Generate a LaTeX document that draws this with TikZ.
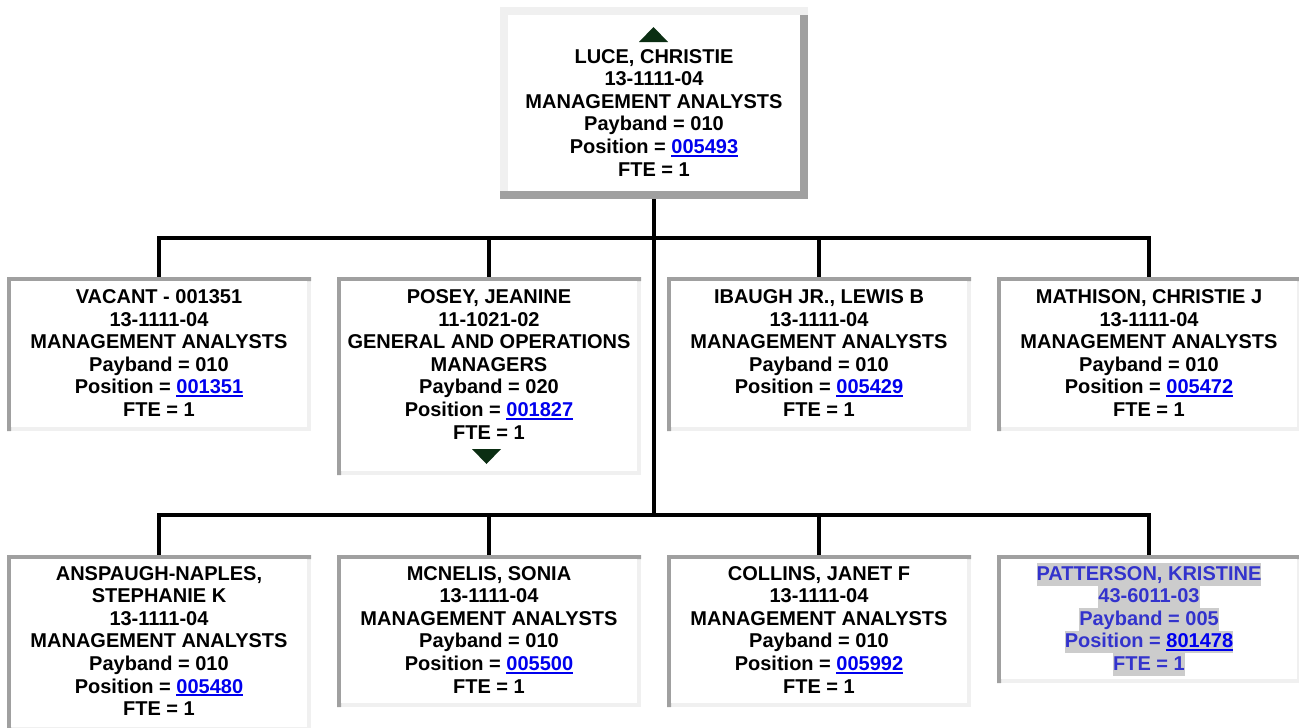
\documentclass[tikz,border=0pt]{standalone}
\usepackage{fontspec}
\setmainfont{Liberation Sans}
\definecolor{bdark}{HTML}{A0A0A0}
\definecolor{blight}{HTML}{F0F0F0}
\definecolor{lnkc}{HTML}{0000EE}
\definecolor{pat}{HTML}{3333CC}
\definecolor{hl}{HTML}{CCCCCC}
\definecolor{arr}{HTML}{0B2E13}
\newcommand\sv{\vrule height 17pt depth 5.6pt width 0pt}
\newcommand\lnk[1]{{\color{lnkc}\setbox0\hbox{#1}\rlap{\vrule width\wd0 height -1.4pt depth 3.4pt}\box0}}
\newcommand\hll[1]{{\setlength\fboxsep{0pt}\colorbox{hl}{\sv #1}}}
% inset bevel: dark top/left, light bottom/right, 4pt
\newcommand\insetbox[1]{%
  \fill[blight] (#1.north west) rectangle (#1.south east);
  \fill[bdark] (#1.south west) -- (#1.north west) -- (#1.north east)
     -- ([yshift=-4pt]#1.north east) -- ([xshift=4pt,yshift=-4pt]#1.north west)
     -- ([xshift=4pt]#1.south west) -- cycle;
  \fill[white] ([xshift=4pt,yshift=-4pt]#1.north west) rectangle ([xshift=-4pt,yshift=4pt]#1.south east);}
% outset bevel: light top/left, dark bottom/right, 8pt
\newcommand\outsetbox[1]{%
  \fill[blight] (#1.north west) rectangle (#1.south east);
  \fill[bdark] ([xshift=-8pt,yshift=-8pt]#1.north east) rectangle (#1.south east);
  \fill[bdark] (#1.south west) rectangle ([yshift=8pt]#1.south east);
  \fill[white] ([xshift=8pt,yshift=-8pt]#1.north west) rectangle ([xshift=-8pt,yshift=8pt]#1.south east);}
\tikzset{
  frame/.style={rectangle, inner sep=0pt, outer sep=0pt, anchor=north west},
  txt/.style={anchor=north, align=center, inner sep=0pt, outer sep=0pt,
              font=\fontsize{20}{22.6}\selectfont\bfseries},
  conn/.style={line width=4pt, black, line join=miter},
  tri/.style={fill=arr}
}
\begin{document}
\begin{tikzpicture}[x=1pt, y=-1pt]
\useasboundingbox (0,0) rectangle (1299,728);
% frames
\node[frame, minimum width=308pt, minimum height=192pt] (top) at (500,7) {};
\node[frame, minimum width=304pt, minimum height=154pt] (r1a) at (7,277) {};
\node[frame, minimum width=304pt, minimum height=198pt] (r1b) at (337,277) {};
\node[frame, minimum width=304pt, minimum height=154pt] (r1c) at (667,277) {};
\node[frame, minimum width=304pt, minimum height=154pt] (r1d) at (997,277) {};
\node[frame, minimum width=304pt, minimum height=176pt] (r2a) at (7,555) {};
\node[frame, minimum width=304pt, minimum height=152pt] (r2b) at (337,555) {};
\node[frame, minimum width=304pt, minimum height=152pt] (r2c) at (667,555) {};
\node[frame, minimum width=304pt, minimum height=128pt] (r2d) at (997,555) {};
% bus junctions
\coordinate (j1) at (654,237.5);
\coordinate (j2) at (654,515);
% connectors
\draw[conn] (top.south) -- (j2);
\draw[conn] (r1a.north) |- (j1) -| (r1d.north);
\draw[conn] (r1b.north) -- (r1b.north |- j1);
\draw[conn] (r1c.north) -- (r1c.north |- j1);
\draw[conn] (r2a.north) |- (j2) -| (r2d.north);
\draw[conn] (r2b.north) -- (r2b.north |- j2);
\draw[conn] (r2c.north) -- (r2c.north |- j2);
% boxes
\outsetbox{top}
\insetbox{r1a}\insetbox{r1b}\insetbox{r1c}\insetbox{r1d}
\insetbox{r2a}\insetbox{r2b}\insetbox{r2c}\insetbox{r2d}
% arrows
\fill[tri] ([xshift=-15pt,yshift=-35pt]top.north) -- ([xshift=14pt,yshift=-35pt]top.north) -- ([xshift=-0.5pt,yshift=-20pt]top.north) -- cycle;
\fill[tri] ([xshift=-17pt,yshift=26pt]r1b.south) -- ([xshift=12pt,yshift=26pt]r1b.south) -- ([xshift=-2.5pt,yshift=11pt]r1b.south) -- cycle;
% texts
\node[txt] (top-t) at ([yshift=-39pt]top.north) {\sv LUCE, CHRISTIE\\13-1111-04\\MANAGEMENT ANALYSTS\\Payband = 010\\Position = \lnk{005493}\\FTE = 1};
\node[txt] (r1a-t) at ([yshift=-9.5pt]r1a.north) {\sv VACANT - 001351\\13-1111-04\\MANAGEMENT ANALYSTS\\Payband = 010\\Position = \lnk{001351}\\FTE = 1};
\node[txt] (r1b-t) at ([yshift=-9.5pt]r1b.north) {\sv POSEY, JEANINE\\11-1021-02\\GENERAL AND OPERATIONS\\MANAGERS\\Payband = 020\\Position = \lnk{001827}\\FTE = 1};
\node[txt] (r1c-t) at ([yshift=-9.5pt]r1c.north) {\sv IBAUGH JR., LEWIS B\\13-1111-04\\MANAGEMENT ANALYSTS\\Payband = 010\\Position = \lnk{005429}\\FTE = 1};
\node[txt] (r1d-t) at ([yshift=-9.5pt]r1d.north) {\sv MATHISON, CHRISTIE J\\13-1111-04\\MANAGEMENT ANALYSTS\\Payband = 010\\Position = \lnk{005472}\\FTE = 1};
\node[txt] (r2a-t) at ([yshift=-8pt]r2a.north) {\sv ANSPAUGH-NAPLES,\\STEPHANIE K\\13-1111-04\\MANAGEMENT ANALYSTS\\Payband = 010\\Position = \lnk{005480}\\FTE = 1};
\node[txt] (r2b-t) at ([yshift=-8pt]r2b.north) {\sv MCNELIS, SONIA\\13-1111-04\\MANAGEMENT ANALYSTS\\Payband = 010\\Position = \lnk{005500}\\FTE = 1};
\node[txt] (r2c-t) at ([yshift=-8pt]r2c.north) {\sv COLLINS, JANET F\\13-1111-04\\MANAGEMENT ANALYSTS\\Payband = 010\\Position = \lnk{005992}\\FTE = 1};
\node[txt, text=pat] (r2d-t) at ([yshift=-8pt]r2d.north) {\hll{PATTERSON, KRISTINE}\\\hll{43-6011-03}\\\hll{Payband = 005}\\\hll{Position = \lnk{801478}}\\\hll{FTE = 1}};
\end{tikzpicture}
\end{document}
